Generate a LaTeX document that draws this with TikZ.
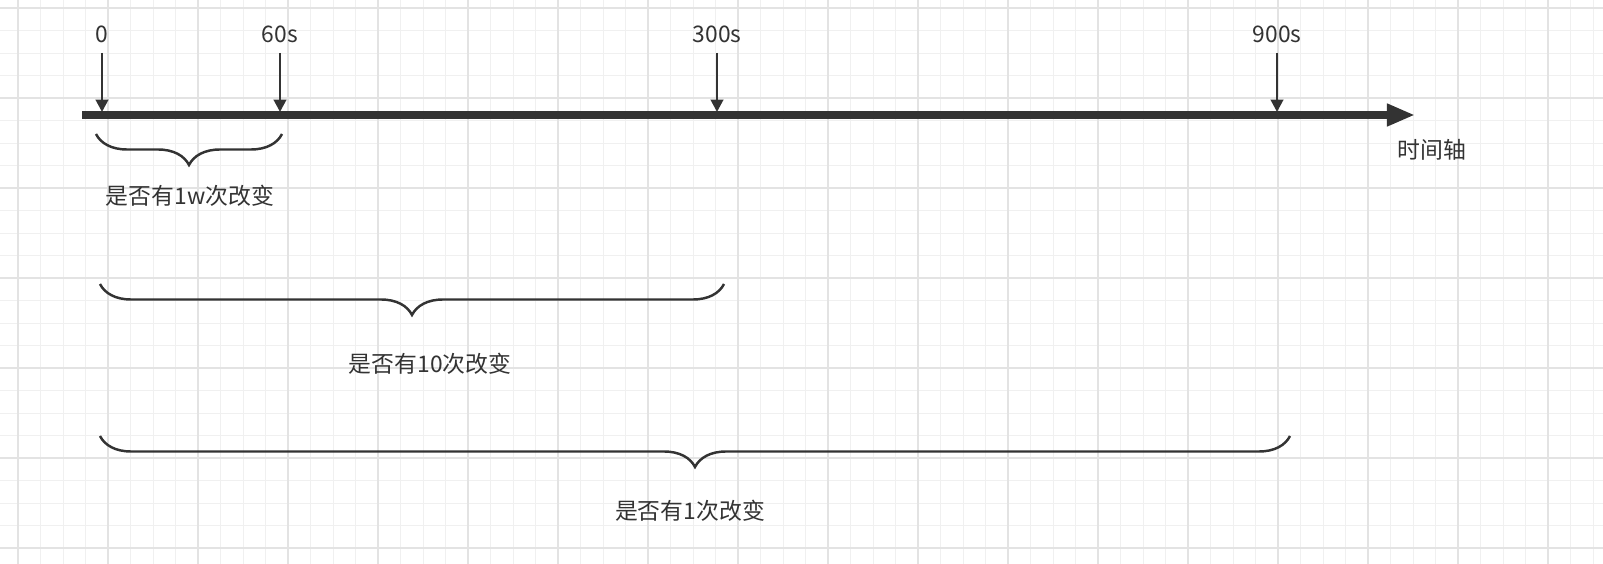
\documentclass[tikz,border=0pt]{standalone}
\usepackage{fontspec}
\setmainfont{Noto Sans CJK SC}
\usetikzlibrary{decorations.pathreplacing,arrows.meta}
\definecolor{ink}{HTML}{333333}
\tikzset{
  tick/.style={ink,line width=1.6pt,-{Triangle[length=7pt,width=7pt]}},
  span/.style={ink,line width=1.4pt,decorate,decoration={brace,mirror,amplitude=0.62cm,raise=0pt}},
  lbl/.style={ink,font=\fontsize{13}{13}\selectfont,inner sep=0pt}
}
\begin{document}
\begin{tikzpicture}[x=0.02cm,y=-0.02cm]
        %% Page
        \useasboundingbox (0,0) rectangle (1603,564);
        \fill[white] (0,0) rectangle (1603,564);
        %% Grid
        \foreach \i in {-4,...,67} {
            \draw[gray!12,line width=0.5pt] (108+22.5*\i,0) -- (108+22.5*\i,564);
        }
        \foreach \j in {-4,...,21} {
            \draw[gray!12,line width=0.5pt] (0,98+22.5*\j) -- (1603,98+22.5*\j);
        }
        \foreach \i in {-1,...,16} {
            \draw[gray!22,line width=0.6pt] (108+90*\i,0) -- (108+90*\i,564);
        }
        \foreach \j in {-1,...,5} {
            \draw[gray!22,line width=0.6pt] (0,98+90*\j) -- (1603,98+90*\j);
        }
        %% Axis
        \coordinate (start) at (82,115);
        \coordinate (end) at (1415,115);
        \draw[ink,line width=4.5pt,-{Triangle[length=16pt,width=12pt]}] (start) -- (end);
        \node[lbl,anchor=north west] (axis) at (1397,139) {时间轴};
        %% Marks
        \foreach \x/\t/\n in {102/0/m0,280/60s/m60,717/300s/m300,1277/900s/m900} {
            \node[lbl] (\n) at (\x,34) {\t};
            \coordinate (\n top) at (\x,53);
            \coordinate (\n bot) at (\x,112);
            \draw[tick] (\n top) -- (\n bot);
        }
        %% Braces
        \draw[span] (96,134) -- (282,134);
        \node[lbl] (b1) at (190,196) {是否有1w次改变};
        \draw[span] (100,284) -- (724,284);
        \node[lbl] (b2) at (430,364) {是否有10次改变};
        \draw[span] (100,436) -- (1290,436);
        \node[lbl] (b3) at (690,511) {是否有1次改变};
\end{tikzpicture}
\end{document}
